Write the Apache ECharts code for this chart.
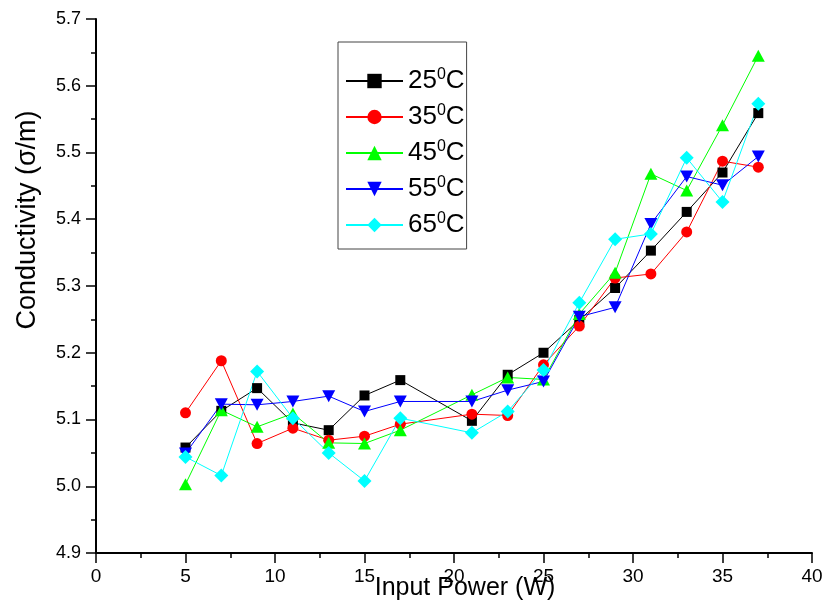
<!DOCTYPE html>
<html>
<head>
<meta charset="utf-8">
<script src="https://cdn.jsdelivr.net/npm/echarts@6/dist/echarts.min.js"></script>
<style>html,body{margin:0;padding:0;background:#fff;}#c{width:827px;height:603px;}</style>
</head>
<body>
<div id="c"></div>
<script>
const inputPower = [5, 7, 9, 11, 13, 15, 17, 21, 23, 25, 27, 29, 31, 33, 35, 37];
const c25 = [5.058, 5.113, 5.147, 5.095, 5.084, 5.136, 5.159, 5.098, 5.167, 5.200, 5.249, 5.297, 5.353, 5.411, 5.470, 5.559];
const c35 = [5.110, 5.188, 5.064, 5.087, 5.069, 5.075, 5.093, 5.108, 5.106, 5.182, 5.240, 5.312, 5.318, 5.381, 5.487, 5.478];
const c45 = [5.003, 5.114, 5.089, 5.109, 5.065, 5.064, 5.084, 5.137, 5.163, 5.160, 5.258, 5.320, 5.468, 5.443, 5.541, 5.645];
const c55 = [5.049, 5.123, 5.122, 5.127, 5.135, 5.112, 5.127, 5.127, 5.144, 5.157, 5.254, 5.268, 5.393, 5.464, 5.451, 5.494];
const c65 = [5.044, 5.016, 5.172, 5.102, 5.050, 5.008, 5.102, 5.080, 5.112, 5.174, 5.275, 5.370, 5.378, 5.492, 5.426, 5.573];
const temps = ['25', '35', '45', '55', '65'];
const xTitle = 'Input Power (W)';
const yTitle = 'Conductivity (σ/m)';

const seriesData = [c25, c35, c45, c55, c65];
const colors = ['#000000', '#ff0000', '#00ff00', '#0000ff', '#00ffff'];
const symbols = ['rect', 'circle', 'triangle', 'path://M0,0 L10,0 L5,9 Z', 'diamond'];
const sizes = [10, 11, [13, 12], [13, 12], 14];

const chart = echarts.init(document.getElementById('c'));
const font = 'Liberation Sans, Arial, sans-serif';
chart.setOption({
  animation: false,
  backgroundColor: '#fff',
  grid: { left: 96, right: 15, top: 19, bottom: 50, containLabel: false },
  xAxis: {
    type: 'value', min: 0, max: 40, interval: 5,
    axisLine: { onZero: false, lineStyle: { color: '#000', width: 2 } },
    axisTick: { inside: false, length: 10, lineStyle: { color: '#000', width: 1.5 } },
    minorTick: { show: true, splitNumber: 2, length: 5, lineStyle: { color: '#000', width: 1.5 } },
    splitLine: { show: false },
    axisLabel: { color: '#000', fontFamily: font, fontSize: 19, margin: 14 }
  },
  yAxis: {
    type: 'value', min: 4.9, max: 5.7, interval: 0.1,
    axisLine: { onZero: false, lineStyle: { color: '#000', width: 2 } },
    axisTick: { inside: false, length: 10, lineStyle: { color: '#000', width: 1.5 } },
    minorTick: { show: true, splitNumber: 2, length: 5, lineStyle: { color: '#000', width: 1.5 } },
    splitLine: { show: false },
    axisLabel: { color: '#000', fontFamily: font, fontSize: 18, margin: 15, formatter: v => v.toFixed(1) }
  },
  legend: {
    orient: 'vertical', left: 338, top: 42,
    padding: [25, 2, 11, 7],
    itemGap: 9, itemWidth: 57, itemHeight: 18,
    borderColor: '#444', borderWidth: 1,
    data: temps.map(t => t + '°C'),
    formatter: name => '{a|' + name.replace('°C', '') + '}{s|0}{a|C}',
    textStyle: {
      color: '#000',
      rich: {
        a: { fontFamily: font, fontSize: 26, lineHeight: 28, color: '#000' },
        s: { fontFamily: font, fontSize: 16, lineHeight: 16, verticalAlign: 'top', color: '#000' }
      }
    }
  },
  series: temps.map((t, i) => ({
    name: t + '°C',
    type: 'line',
    data: inputPower.map((x, j) => [x, seriesData[i][j]]),
    symbol: symbols[i],
    symbolSize: sizes[i],
    showAllSymbol: true,
    color: colors[i],
    itemStyle: { color: colors[i] },
    lineStyle: { color: colors[i], width: 1 }
  })),
  graphic: [
    {
      type: 'text', x: 28, y: 220, rotation: Math.PI / 2,
      style: { text: yTitle, font: '27px ' + font, fill: '#000', textAlign: 'center', textVerticalAlign: 'middle' }
    },
    {
      type: 'text', x: 465, y: 588,
      style: { text: xTitle, font: '25px ' + font, fill: '#000', textAlign: 'center', textVerticalAlign: 'middle' }
    }
  ]
});
</script>
</body>
</html>
